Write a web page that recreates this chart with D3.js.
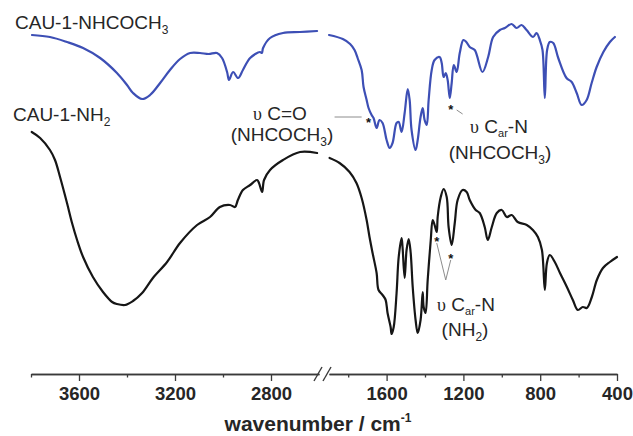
<!DOCTYPE html>
<html>
<head>
<meta charset="utf-8">
<script src="https://cdn.jsdelivr.net/npm/d3@7"></script>
<style>
  html, body { margin: 0; padding: 0; background: #fff; }
  svg { display: block; }
  text { font-family: "Liberation Sans", Arial, sans-serif; }
</style>
</head>
<body>
<svg id="chart" width="633" height="436"></svg>
<script>
// ---------- DATA (wavenumber in cm^-1, transmittance in arbitrary units) ----------
const blueLeftWn = [3796,3721,3650,3583,3512,3442,3400,3375,3337,3304,3262,3221,3179,3137,3096,3060,3025,3004,2983,2975,2958,2937,2917,2887,2846,2838,2833,2804,2750,2679,2608];
const blueLeftT  = [91.25,90.75,89.5,88,85.5,81.75,78.75,76.75,75.25,76.25,79.25,82.5,85.25,86.75,86.75,86.5,86.75,85.5,82,80,82,80.5,82.5,85.5,87,86.75,88,90.5,91.75,92,92.25];

const blueRightWn = [1900,1828,1790,1767,1751,1730,1720,1704,1694,1678,1668,1652,1637,1621,1600,1584,1569,1548,1537,1522,1506,1490,1480,1470,1449,1438,1423,1412,1402,1391,1381,1365,1350,1324,1313,1303,1292,1282,1271,1261,1250,1235,1219,1200,1185,1167,1141,1101,1071,1045,1010,984,949,923,897,871,837,819,802,788,776,764,750,732,706,663,636,610,584,558,532,506,471,437,411];
const blueRightT  = [91.25,90.25,89,87.5,85.5,82.5,78.25,75,73,71.25,70.5,68,70,69.25,65,63,64.25,69.25,69.5,67,71.75,77.75,75,67.5,62.5,65,70.75,73,70,68.75,75,82.5,85,85.75,84.25,80.75,81.75,80,75.5,79.25,83.75,82,86.75,90,89.5,88.25,87.5,82,85.75,90.75,92.5,93,94,93,93.75,92.5,90.75,91.75,90,87.5,75.5,87.5,89.5,89.25,85.5,80.5,79.5,76.75,73.75,75,79.25,83.25,87,89.5,90.75];

const blackLeftWn = [3797,3762,3721,3700,3679,3650,3629,3608,3583,3542,3500,3462,3442,3408,3375,3337,3292,3233,3179,3108,3054,3013,2971,2950,2938,2917,2887,2858,2850,2837,2829,2804,2750,2679,2608];
const blackLeftT  = [67,65.5,62.5,60,55.75,49.25,44.25,40,35.75,30.75,27,24.5,24,23.75,24.75,26.75,30.5,34.5,39.25,43.75,45.75,48.25,48.75,48.25,50,52.5,53.75,55,54.25,52,55,57.5,60,62,61.75];

const blackRightWn = [1897,1845,1793,1757,1730,1704,1689,1673,1652,1642,1621,1605,1595,1579,1574,1563,1548,1537,1522,1517,1506,1496,1485,1475,1464,1449,1438,1423,1412,1407,1397,1386,1370,1360,1350,1339,1334,1318,1303,1287,1277,1261,1245,1230,1204,1183,1167,1136,1115,1089,1073,1052,1026,1000,974,948,917,870,838,812,791,776,765,750,724,697,661,630,604,578,557,531,505,473,437,400];
const blackRightT  = [60.5,59.25,57,54.25,50.5,45,40.75,36.75,31.75,27.5,26.25,25,21.75,18.25,16.5,18.25,26.75,35.75,40.5,38.25,30.5,37.5,40.25,37,28.25,20,16.75,20,27,23.25,21.75,30,40,45,43.75,42,45.75,50.75,52.75,50.75,43.25,38.75,44.25,50,52.5,52,50,47.5,46.75,43.25,40,43.25,46.75,47.5,45.75,46.25,44.5,43.75,42.5,40.75,37.5,27.5,34.25,36.25,34.5,31.75,28.25,25,22.5,23.25,23,25.75,30,33,34.5,35.75];

// axis ticks
const leftDomain = [3800, 2600];
const rightDomain = [1900, 400];
const majorLeft = [3600, 3200, 2800];
const minorLeft = [3800, 3400, 3000];
const majorRight = [1600, 1200, 800, 400];
const minorRight = [1800, 1400, 1000, 600];

// annotation markers (wavenumber, transmittance)
const starWn = [1694, 1266, 1339, 1266];
const starT  = [70.25, 73.5, 40.5, 36.25];

// ---------- CHART ----------
const svg = d3.select("#chart");
const axisY = 374;

const xL = d3.scaleLinear().domain(leftDomain).range([31, 319]);
const xR = d3.scaleLinear().domain(rightDomain).range([329, 617]);
const y = d3.scaleLinear().domain([0, 100]).range([400, 0]);

const blueCol = "#3d4fb5";
const blackCol = "#161616";
const textCol = "#262626";

function series(wn, t) { return wn.map((w, i) => ({ wn: w, t: t[i] })); }

const lineL = d3.line().x(d => xL(d.wn)).y(d => y(d.t)).curve(d3.curveCatmullRom.alpha(0.5));
const lineR = d3.line().x(d => xR(d.wn)).y(d => y(d.t)).curve(d3.curveCatmullRom.alpha(0.5));

const paths = [
  { d: lineL(series(blueLeftWn, blueLeftT)), c: blueCol },
  { d: lineR(series(blueRightWn, blueRightT)), c: blueCol },
  { d: lineL(series(blackLeftWn, blackLeftT)), c: blackCol },
  { d: lineR(series(blackRightWn, blackRightT)), c: blackCol }
];
svg.append("g").selectAll("path").data(paths).join("path")
  .attr("d", p => p.d)
  .attr("fill", "none")
  .attr("stroke", p => p.c)
  .attr("stroke-width", 2.2)
  .attr("stroke-linejoin", "round")
  .attr("stroke-linecap", "round");

// ---------- AXES ----------
function styleAxis(g) {
  g.select(".domain").attr("stroke", "#3a3a3a").attr("stroke-width", 1.3);
  g.selectAll(".tick line").attr("stroke", "#3a3a3a").attr("stroke-width", 1.3);
  g.selectAll(".tick text")
    .attr("y", 26).attr("dy", 0)
    .attr("fill", textCol)
    .style("font-family", '"Liberation Sans", Arial, sans-serif')
    .style("font-size", "18.5px")
    .style("font-weight", "bold");
}
const axG = svg.append("g").attr("transform", `translate(0,${axisY})`);
axG.append("g").call(d3.axisBottom(xL).tickValues(majorLeft).tickSize(7).tickSizeOuter(0).tickFormat(d3.format("d"))).call(styleAxis);
axG.append("g").call(d3.axisBottom(xL).tickValues(minorLeft).tickSize(3.5).tickSizeOuter(0).tickFormat("")).call(styleAxis);
axG.append("g").call(d3.axisBottom(xR).tickValues(majorRight).tickSize(7).tickSizeOuter(0).tickFormat(d3.format("d"))).call(styleAxis);
axG.append("g").call(d3.axisBottom(xR).tickValues(minorRight).tickSize(3.5).tickSizeOuter(0).tickFormat("")).call(styleAxis);

// break marks
const gapL = xL.range()[1], gapR = xR.range()[0];
[gapL - 1, gapR - 2].forEach(cx => {
  axG.append("line")
    .attr("x1", cx - 4).attr("y1", 7)
    .attr("x2", cx + 4).attr("y2", -7)
    .attr("stroke", "#3a3a3a").attr("stroke-width", 1.4);
});

// axis title
const title = svg.append("text")
  .attr("x", 318).attr("y", 431)
  .attr("text-anchor", "middle")
  .attr("fill", textCol)
  .style("font-size", "21px").style("font-weight", "bold");
title.append("tspan").text("wavenumber / cm");
title.append("tspan").attr("dy", -9).style("font-size", "12px").text("-1");

// ---------- LABELS ----------
function label(x, yb, parts, anchor) {
  const t = svg.append("text").attr("x", x).attr("y", yb)
    .attr("text-anchor", anchor || "start")
    .attr("fill", textCol).style("font-size", "19px");
  let shift = 0;
  parts.forEach(p => {
    const s = t.append("tspan").text(p.text);
    const target = p.sub ? (p.shift || 5) : 0;
    if (target !== shift) { s.attr("dy", target - shift); shift = target; }
    if (p.sub) s.style("font-size", p.size || "12px");
    if (p.greek) s.style("font-family", '"Liberation Serif", serif').style("font-size", "18px");
  });
  return t;
}
label(15, 29, [{ text: "CAU-1-NHCOCH" }, { text: "3", sub: true }]);
label(13, 121, [{ text: "CAU-1-NH" }, { text: "2", sub: true }]);
label(280, 120, [{ text: "υ", greek: true }, { text: " C=O" }], "middle");
label(282, 141, [{ text: "(NHCOCH" }, { text: "3", sub: true }, { text: ")" }], "middle");
label(499, 133, [{ text: "υ", greek: true }, { text: " C" }, { text: "ar", sub: true, shift: 4, size: "11px" }, { text: "-N" }], "middle");
label(500, 159, [{ text: "(NHCOCH" }, { text: "3", sub: true }, { text: ")" }], "middle");
label(466, 311, [{ text: "υ", greek: true }, { text: " C" }, { text: "ar", sub: true, shift: 4, size: "11px" }, { text: "-N" }], "middle");
label(465, 336, [{ text: "(NH" }, { text: "2", sub: true }, { text: ")" }], "middle");

// asterisks
svg.append("g").selectAll("text").data(starWn.map((w, i) => ({ wn: w, t: starT[i] })))
  .join("text")
  .attr("x", d => xR(d.wn)).attr("y", d => y(d.t) + 7.5)
  .attr("text-anchor", "middle")
  .attr("fill", "#111")
  .style("font-size", "13px").style("font-weight", "bold")
  .text("*");

// leader lines (wavenumber / transmittance pairs)
const leaders = [
  [[1871, 70.75], [1730, 70.75]],
  [[1235, 72.5], [1204, 71.5]],
  [[1339, 39.25], [1292, 30], [1266, 35]]
];
svg.append("g").selectAll("path").data(leaders).join("path")
  .attr("d", d3.line().x(d => xR(d[0])).y(d => y(d[1])))
  .attr("fill", "none")
  .attr("stroke", "#8c8c8c")
  .attr("stroke-width", 1);
</script>
</body>
</html>
